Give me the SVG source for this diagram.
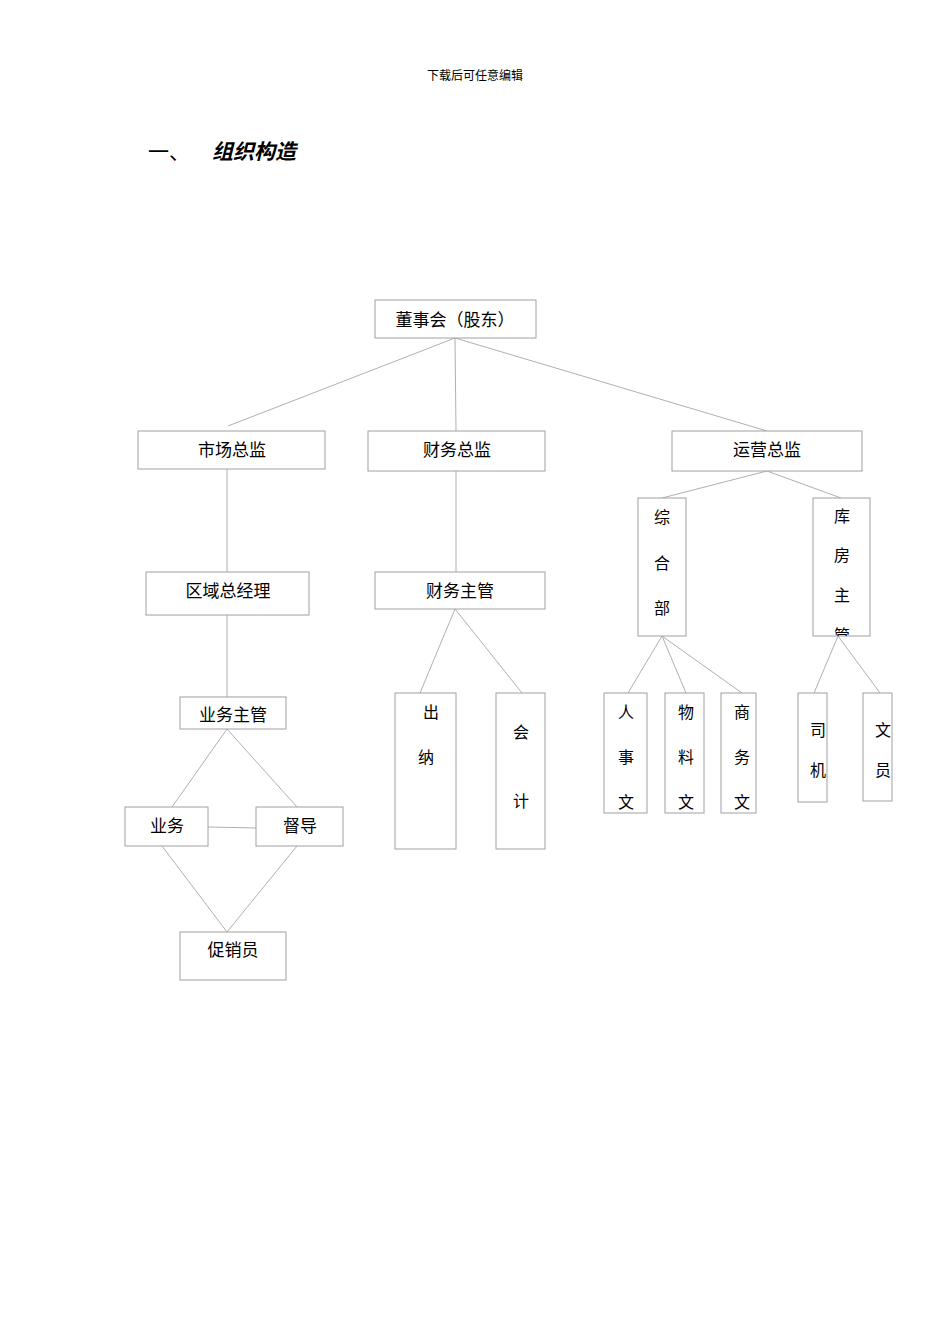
<svg xmlns="http://www.w3.org/2000/svg" width="950" height="1344" viewBox="0 0 950 1344">
<style>
text{font-family:"Noto Sans CJK SC","Liberation Serif",serif;fill:#000}
.n rect{fill:#fff;stroke:#a0a0a0;stroke-width:1}
.n text{font-size:17px;text-anchor:middle}
.v text{font-size:16px}
#links line{stroke:#b0b0b0;stroke-width:1}
</style>
<defs>
<clipPath id="c1"><rect x="604" y="693" width="43" height="120"/></clipPath>
<clipPath id="c2"><rect x="665" y="693" width="39" height="120"/></clipPath>
<clipPath id="c3"><rect x="721" y="693" width="35" height="120"/></clipPath>
<clipPath id="c4"><rect x="813" y="498" width="57" height="138"/></clipPath>
</defs>
<rect width="950" height="1344" fill="#fff"/>
<text x="475" y="80" font-size="12" text-anchor="middle">下载后可任意编辑</text>
<text x="148" y="159" font-size="21">一、</text>
<text x="212" y="159" font-size="21" font-style="italic" font-weight="bold">组织构造</text>
<g id="links">
<line x1="455" y1="338" x2="228" y2="426"/>
<line x1="455" y1="338" x2="456" y2="431"/>
<line x1="455" y1="338" x2="767" y2="431"/>
<line x1="227" y1="469" x2="227" y2="572"/>
<line x1="456" y1="471" x2="456" y2="572"/>
<line x1="767" y1="471" x2="662" y2="498"/>
<line x1="767" y1="471" x2="841" y2="498"/>
<line x1="227" y1="615" x2="227" y2="697"/>
<line x1="455" y1="609" x2="420" y2="693"/>
<line x1="455" y1="609" x2="522" y2="693"/>
<line x1="662" y1="636" x2="628" y2="693"/>
<line x1="662" y1="636" x2="686" y2="693"/>
<line x1="662" y1="636" x2="742" y2="693"/>
<line x1="838" y1="636" x2="814" y2="693"/>
<line x1="838" y1="636" x2="880" y2="693"/>
<line x1="227" y1="729" x2="172" y2="807"/>
<line x1="227" y1="729" x2="297" y2="807"/>
<line x1="208" y1="827" x2="256" y2="828"/>
<line x1="162" y1="846" x2="227" y2="932"/>
<line x1="297" y1="846" x2="227" y2="932"/>
</g>
<g id="n_board" class="n"><rect x="375" y="300" width="161" height="38"/><text x="455" y="326">董事会（股东）</text></g>
<g id="n_market" class="n"><rect x="138" y="431" width="187" height="38"/><text x="232" y="456">市场总监</text></g>
<g id="n_finance" class="n"><rect x="368" y="431" width="177" height="40"/><text x="457" y="456">财务总监</text></g>
<g id="n_ops" class="n"><rect x="672" y="431" width="190" height="40"/><text x="767" y="456">运营总监</text></g>
<g id="n_region" class="n"><rect x="146" y="572" width="163" height="43"/><text x="228" y="597">区域总经理</text></g>
<g id="n_finmgr" class="n"><rect x="375" y="572" width="170" height="37"/><text x="460" y="597">财务主管</text></g>
<g id="n_general" class="n v"><rect x="638" y="498" width="48" height="138"/><text x="662" y="523">综</text><text x="662" y="569">合</text><text x="662" y="614">部</text></g>
<g id="n_store" class="n v"><rect x="813" y="498" width="57" height="138"/><g clip-path="url(#c4)"><text x="842" y="522" font-size="15">库</text><text x="842" y="561" font-size="15">房</text><text x="842" y="601" font-size="15">主</text><text x="842" y="641" font-size="15">管</text></g></g>
<g id="n_bizmgr" class="n"><rect x="180" y="697" width="106" height="32"/><text x="233" y="721">业务主管</text></g>
<g id="n_biz" class="n"><rect x="125" y="807" width="83" height="39"/><text x="167" y="832">业务</text></g>
<g id="n_sup" class="n"><rect x="256" y="807" width="87" height="39"/><text x="300" y="832">督导</text></g>
<g id="n_promo" class="n"><rect x="180" y="932" width="106" height="48"/><text x="233" y="956">促销员</text></g>
<g id="n_cashier" class="n v"><rect x="395" y="693" width="61" height="156"/><text x="431" y="718">出</text><text x="426" y="763">纳</text></g>
<g id="n_acct" class="n v"><rect x="496" y="693" width="49" height="156"/><text x="521" y="738">会</text><text x="521" y="807">计</text></g>
<g id="n_hr" class="n v"><rect x="604" y="693" width="43" height="120"/><g clip-path="url(#c1)"><text x="626" y="718">人</text><text x="626" y="763">事</text><text x="626" y="808">文</text></g></g>
<g id="n_mat" class="n v"><rect x="665" y="693" width="39" height="120"/><g clip-path="url(#c2)"><text x="686" y="718">物</text><text x="686" y="763">料</text><text x="686" y="808">文</text></g></g>
<g id="n_com" class="n v"><rect x="721" y="693" width="35" height="120"/><g clip-path="url(#c3)"><text x="742" y="718">商</text><text x="742" y="763">务</text><text x="742" y="808">文</text></g></g>
<g id="n_driver" class="n v"><rect x="798" y="693" width="29" height="109"/><text x="818" y="736" font-size="15">司</text><text x="818" y="776" font-size="15">机</text></g>
<g id="n_clerk" class="n v"><rect x="863" y="693" width="29" height="108"/><text x="883" y="736" font-size="15">文</text><text x="883" y="776" font-size="15">员</text></g>
</svg>
